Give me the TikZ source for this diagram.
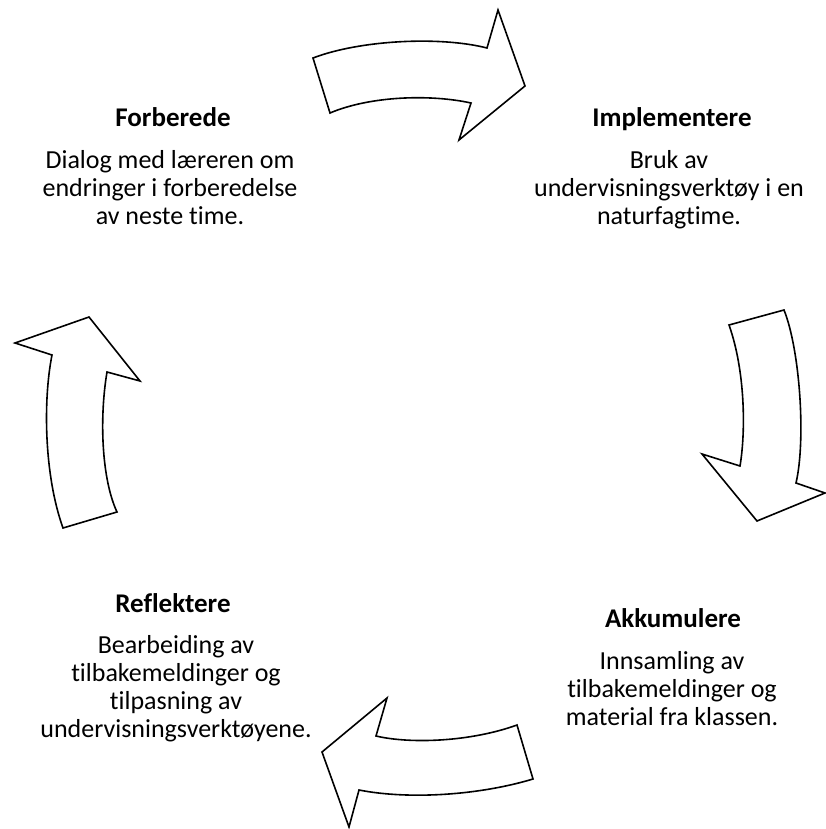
\documentclass[tikz,border=0pt]{standalone}
\usepackage{fontspec}
\setmainfont[Ligatures=NoCommon]{Carlito}
\begin{document}
\begin{tikzpicture}[x=1pt,y=-1pt,
  cyclearrow/.style={draw=black,fill=white,line width=1.6pt,line join=miter},
  steptitle/.style={font=\fontsize{27}{30}\selectfont\bfseries,anchor=base,inner sep=0pt},
  stepbody/.style={font=\fontsize{26}{28}\selectfont,align=center,anchor=base,inner sep=0pt}]
\useasboundingbox (0,0) rectangle (825,829);

% curved block arrows of the cycle
\draw[cyclearrow] (313,58) .. controls (360,40) and (440,36) .. (487,48)
  -- (498,10) -- (525,86) -- (459,140) -- (471,103)
  .. controls (430,94) and (370,96) .. (330,113) -- cycle;
\draw[cyclearrow] (729,325) -- (784,310) .. controls (800,350) and (806,440) .. (796,483)
  -- (825,493) -- (757,521) -- (702,454) -- (740,466)
  .. controls (746,430) and (745,370) .. (729,325) -- cycle;
\draw[cyclearrow] (517,725) -- (533,779) .. controls (480,795) and (410,800) .. (359,790)
  -- (349,827) -- (322,752) -- (387,698) -- (376,736)
  .. controls (410,744) and (470,742) .. (517,725) -- cycle;
\draw[cyclearrow] (63,528) -- (117,512) .. controls (102,480) and (99,420) .. (107,372)
  -- (140,381) -- (89,317) -- (15,343) -- (52,355)
  .. controls (43,400) and (44,475) .. (63,528) -- cycle;

% step labels (body nodes are anchored at the baseline of their last line)
\node[steptitle] (t1) at (173,127) {Forberede};
\node[stepbody] (b1) at (170,224) {Dialog med læreren om\\endringer i forberedelse\\av neste time.};
\node[steptitle] (t2) at (672,127) {Implementere};
\node[stepbody] (b2) at (669,224) {Bruk av\\undervisningsverktøy i en\\naturfagtime.};
\node[steptitle] (t3) at (673,627) {Akkumulere};
\node[stepbody] (b3) at (672,725) {Innsamling av\\tilbakemeldinger og\\material fra klassen.};
\node[steptitle] (t4) at (173,612) {Reflektere};
\node[stepbody] (b4) at (176,737) {Bearbeiding av\\tilbakemeldinger og\\tilpasning av\\undervisningsverktøyene.};
\end{tikzpicture}
\end{document}
